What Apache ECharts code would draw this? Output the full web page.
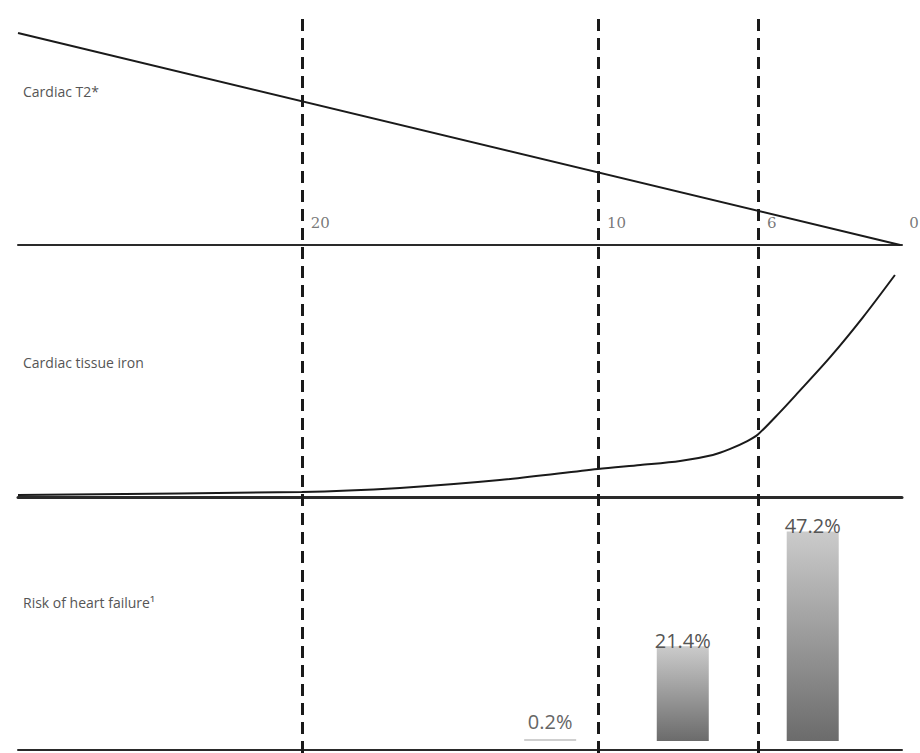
<!DOCTYPE html>
<html>
<head>
<meta charset="utf-8">
<script src="https://cdn.jsdelivr.net/npm/echarts@6/dist/echarts.min.js"></script>
<style>
  html, body { margin: 0; padding: 0; background: #ffffff; }
  #chart { width: 920px; height: 753px; }
</style>
</head>
<body>
<div id="chart"></div>
<script>
// ---- Data (schematic severity axis: 0 = left edge, 100 = right edge) ----
const panelTitles = ['Cardiac T2*', 'Cardiac tissue iron', 'Risk of heart failure¹'];
const t2Labels = ['20', '10', '6', '0'];
const t2Pos = [32.1, 65.6, 83.7, 99.8];
const t2LinePos = [0, 99.8];
const t2LineVal = [29.5, 0];
const ironPos = [0, 32.1, 43.2, 54.5, 65.6, 70.4, 74.9, 78.6, 80.5, 82.5, 83.7, 86.2, 88.1, 91.9, 95.6, 99.2];
const ironVal = [0.8, 2.0, 3.6, 6.7, 11.1, 12.7, 14.3, 16.7, 19.0, 22.2, 24.8, 33.7, 40.9, 55.6, 71.4, 88.1];
const riskPos = [60.2, 75.2, 89.9];
const riskVal = [0.2, 21.4, 47.2];
const riskLabels = ['0.2%', '21.4%', '47.2%'];

const chart = echarts.init(document.getElementById('chart'), null, { renderer: 'svg' });

const sans = '"Open Sans", "Noto Sans", sans-serif';
const serif = '"DejaVu Serif", "Liberation Serif", serif';

const grids = [
  { left: 18, right: 18, top: 15, height: 230 },
  { left: 18, right: 18, top: 245, height: 252 },
  { left: 18, right: 18, top: 497, height: 253 },
  { left: 18, right: 18, top: 15, height: 738 }
];
const axisLineWidths = [2, 3, 2];

const xAxes = grids.map((g, i) => ({
  type: 'value', gridIndex: i, min: 0, max: 100,
  axisLine: { show: i < 3, onZero: false, lineStyle: { color: '#2a2a2a', width: axisLineWidths[i] || 1 } },
  axisTick: { show: false }, axisLabel: { show: false }, splitLine: { show: false }
}));
const yRanges = [[0, 32], [0, 100], [-2, 55], [0, 1]];
const yAxes = yRanges.map((r, i) => ({
  type: 'value', gridIndex: i, min: r[0], max: r[1], show: false,
  splitLine: { show: false }
}));

const titleTops = [79, 350, 590];

const option = {
  backgroundColor: '#ffffff',
  animation: false,
  title: panelTitles.map((t, i) => ({
    text: t, left: 18, top: titleTops[i],
    textStyle: { fontFamily: sans, fontSize: 14, fontWeight: 'normal', color: '#555555' }
  })),
  grid: grids,
  xAxis: xAxes,
  yAxis: yAxes,
  series: [
    {
      type: 'line', xAxisIndex: 0, yAxisIndex: 0,
      data: t2LinePos.map((p, i) => [p, t2LineVal[i]]),
      symbol: 'none',
      lineStyle: { color: '#1a1a1a', width: 2 }
    },
    {
      type: 'scatter', xAxisIndex: 0, yAxisIndex: 0,
      data: t2Pos.map(p => [p, 0]),
      symbolSize: 0,
      label: {
        show: true, position: 'right', distance: 0, offset: [9, -22],
        formatter: p => t2Labels[p.dataIndex],
        fontFamily: serif, fontSize: 15, color: '#555555'
      }
    },
    {
      type: 'line', xAxisIndex: 1, yAxisIndex: 1,
      data: ironPos.map((p, i) => [p, ironVal[i]]),
      symbol: 'none', smooth: 0.3,
      lineStyle: { color: '#1a1a1a', width: 2 }
    },
    {
      type: 'bar', xAxisIndex: 2, yAxisIndex: 2,
      barWidth: 52, barMinHeight: 2,
      data: riskPos.map((p, i) => ({
        value: [p, riskVal[i]],
        itemStyle: i === 0 ? { color: '#cfcfcf' } : undefined,
        label: i === 0 ? { offset: [0, -8], color: '#666666' } : undefined
      })),
      itemStyle: {
        color: new echarts.graphic.LinearGradient(0, 0, 0, 1, [
          { offset: 0, color: '#cbcbcb' },
          { offset: 1, color: '#6b6b6b' }
        ])
      },
      label: {
        show: true, position: 'top', distance: 0, offset: [0, 4],
        formatter: p => riskLabels[p.dataIndex],
        fontFamily: sans, fontSize: 20, color: '#555555'
      }
    },
    {
      type: 'line', xAxisIndex: 3, yAxisIndex: 3,
      data: t2Pos.slice(0, 3).map(p => [p, 0.5]),
      symbol: 'none', lineStyle: { opacity: 0 }, silent: true,
      markLine: {
        silent: true, symbol: ['none', 'none'], label: { show: false },
        lineStyle: { color: '#1a1a1a', width: 3, type: [12, 7] },
        data: t2Pos.slice(0, 3).map(p => ({ xAxis: p }))
      }
    }
  ]
};
chart.setOption(option);
</script>
</body>
</html>
